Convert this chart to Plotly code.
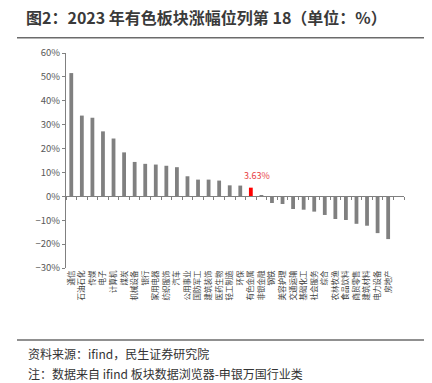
import plotly.graph_objects as go

categories = ["通信", "石油石化", "传媒", "电子", "计算机", "煤炭", "机械设备", "银行", "家用电器",
              "纺织服饰", "汽车", "公用事业", "国防军工", "建筑装饰", "医药生物", "轻工制造", "环保",
              "有色金属", "非银金融", "钢铁", "美容护理", "交通运输", "基础化工", "社会服务", "综合",
              "农林牧渔", "食品饮料", "商贸零售", "建筑材料", "电力设备", "房地产"]
values = [51.6, 33.8, 32.9, 27.2, 24.2, 18.4, 14.4, 13.6, 13.3, 12.8, 12.2, 8.4, 7.0, 7.0, 6.6,
          4.6, 4.5, 3.63, 0.2, -2.8, -3.2, -5.3, -5.6, -6.4, -7.8, -9.5, -9.9, -11.5, -12.3,
          -15.4, -17.9]
highlight = "有色金属"

FONT = "Noto Sans CJK SC, Noto Sans, sans-serif"
colors = ["#FF0000" if c == highlight else "#808080" for c in categories]
xpos = list(range(len(categories)))

fig = go.Figure()
fig.add_trace(go.Bar(x=xpos, y=values, marker=dict(color=colors, line=dict(width=0)),
                     width=0.36, xaxis="x", yaxis="y", showlegend=False, hoverinfo="skip"))

hi = categories.index(highlight)
fig.add_annotation(x=hi, y=values[hi], text=f"{values[hi]}%", showarrow=False,
                   yanchor="bottom", yshift=4, xshift=6,
                   font=dict(family=FONT, size=9, color="#E8413F"))

n_slots = len(categories) + 1
xrange = [-0.5, n_slots - 0.5]
ymin, ymax = -30, 60

fig.update_layout(
    width=432, height=383,
    margin=dict(l=66, r=28, t=53, b=115, autoexpand=False),
    plot_bgcolor="white", paper_bgcolor="white",
    font=dict(family=FONT, color="#404040"),
    title=dict(text="<b>图2：2023 年有色板块涨幅位列第 18（单位：%）</b>",
               x=26 / 432, xanchor="left", xref="container",
               y=1 - 18 / 383, yanchor="middle", yref="container",
               font=dict(family=FONT, size=16, color="#3a3a3a")),
    xaxis=dict(range=xrange, tickmode="array", tickvals=xpos, ticktext=categories,
               tickangle=-90, showline=False, ticks="", showgrid=False, zeroline=False,
               automargin=False,
               tickfont=dict(family=FONT, size=7.5, color="#404040")),
    xaxis2=dict(range=xrange, overlaying="x", anchor="free",
                position=(0 - ymin) / (ymax - ymin), side="bottom",
                showline=True, linecolor="#808080", linewidth=1,
                ticks="outside", ticklen=3, tickcolor="#808080", tickwidth=1,
                tickmode="array", tickvals=[i + 0.5 for i in range(-1, n_slots)],
                showticklabels=False, showgrid=False, zeroline=False, automargin=False),
    yaxis=dict(range=[ymin, ymax], dtick=10, ticksuffix="%", showgrid=False,
               zeroline=False, showline=True, linecolor="#808080", linewidth=1,
               ticks="outside", ticklen=3, tickcolor="#808080", automargin=False,
               tickfont=dict(family=FONT, size=9.5, color="#595959")),
)

fig.add_trace(go.Scatter(x=[xpos[0]], y=[0], xaxis="x2", yaxis="y", mode="markers",
                         marker=dict(opacity=0), showlegend=False, hoverinfo="skip"))

pw, ph = 432 - 66 - 28, 383 - 53 - 115
def px_x(x): return (x - 66) / pw
def px_y(y): return (383 - 115 - y) / ph

for ypix in (37.7, 340):
    fig.add_shape(type="line", xref="paper", yref="paper",
                  x0=px_x(17), x1=px_x(424), y0=px_y(ypix), y1=px_y(ypix),
                  line=dict(color="#6b6b6b", width=1.5))

fig.add_annotation(xref="paper", yref="paper", x=px_x(26), y=px_y(353), xanchor="left",
                   yanchor="middle", showarrow=False, text="资料来源：ifind，民生证券研究院",
                   font=dict(family=FONT, size=12, color="#333333"))
fig.add_annotation(xref="paper", yref="paper", x=px_x(26), y=px_y(373), xanchor="left",
                   yanchor="middle", showarrow=False, text="注：数据来自 ifind 板块数据浏览器-申银万国行业类",
                   font=dict(family=FONT, size=12, color="#333333"))

fig.write_html("out.html", config={"displayModeBar": False},
               post_script="document.body.style.margin='0';document.body.style.overflow='hidden';")
